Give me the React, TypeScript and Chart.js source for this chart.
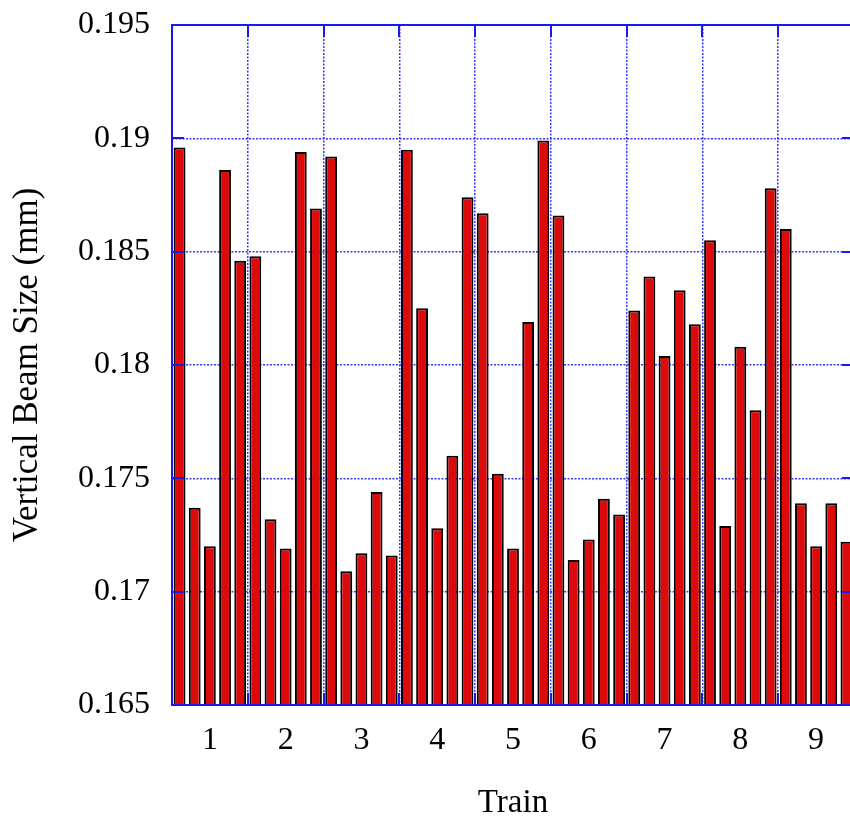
import { useEffect, useRef } from 'react';
import { Chart, registerables } from 'chart.js';

Chart.register(...registerables);

// Train labels (x axis)
const trainLabels = ['1', '2', '3', '4', '5', '6', '7', '8', '9'];

// Vertical beam size (mm) for the 5 bunches of each train
const train1 = [0.1896, 0.1737, 0.1720, 0.1886, 0.1846];
const train2 = [0.1848, 0.1732, 0.1719, 0.1894, 0.1869];
const train3 = [0.1892, 0.1709, 0.1717, 0.1744, 0.1716];
const train4 = [0.1895, 0.1825, 0.1728, 0.1760, 0.1874];
const train5 = [0.1867, 0.1752, 0.1719, 0.1819, 0.1899];
const train6 = [0.1866, 0.1714, 0.1723, 0.1741, 0.1734];
const train7 = [0.1824, 0.1839, 0.1804, 0.1833, 0.1818];
const train8 = [0.1855, 0.1729, 0.1808, 0.1780, 0.1878];
const train9 = [0.1860, 0.1739, 0.1720, 0.1739, 0.1722];

// Y axis range / ticks
const yMin = 0.165;
const yMax = 0.195;
const yStep = 0.005;

const trains = [train1, train2, train3, train4, train5, train6, train7, train8, train9];
const bunchesPerTrain = train1.length;
const bunchValues = trains.flat();
const categoryLabels = bunchValues.map(
  (_, i) => `${trainLabels[Math.floor(i / bunchesPerTrain)]}-${(i % bunchesPerTrain) + 1}`
);

const BLUE = '#1a1af0';
const GRID_BLUE = '#3636ff';
const SERIF = '"Liberation Serif", "Times New Roman", serif';

const framePlugin = {
  id: 'gnuplotFrame',
  afterDatasetsDraw(chart: any) {
    const { ctx, chartArea: a, scales } = chart;
    const tl = 12;
    ctx.save();
    ctx.setLineDash([]);
    ctx.strokeStyle = BLUE;
    ctx.lineWidth = 2;
    const line = (x1: number, y1: number, x2: number, y2: number) => {
      ctx.beginPath();
      ctx.moveTo(x1, y1);
      ctx.lineTo(x2, y2);
      ctx.stroke();
    };
    scales.y.ticks.forEach((t: any) => {
      const py = Math.round(scales.y.getPixelForValue(t.value));
      line(a.left, py, a.left + tl, py);
      line(a.right - tl, py, a.right, py);
    });
    const xs = scales.x;
    for (let i = bunchesPerTrain; i < bunchValues.length; i += bunchesPerTrain) {
      const px = Math.round((xs.getPixelForValue(i - 1) + xs.getPixelForValue(i)) / 2);
      line(px, a.bottom, px, a.bottom - tl);
      line(px, a.top, px, a.top + tl);
    }
    ctx.strokeRect(a.left, a.top, a.right - a.left, a.bottom - a.top);
    ctx.restore();
  },
};

function BeamChart() {
  const ref = useRef<HTMLCanvasElement | null>(null);
  useEffect(() => {
    if (!ref.current) return;
    const chart = new Chart(ref.current, {
      type: 'bar',
      data: {
        labels: categoryLabels,
        datasets: [
          {
            data: bunchValues,
            backgroundColor: '#dc0a0a',
            borderColor: '#000000',
            borderWidth: 2,
            barPercentage: 0.78,
            categoryPercentage: 1,
          },
        ],
      },
      options: {
        animation: false,
        responsive: false,
        layout: { padding: { top: 25, right: 8, left: 0, bottom: 0 } },
        plugins: {
          legend: { display: false },
          tooltip: { enabled: false },
        },
        scales: {
          x: {
            offset: true,
            grid: {
              offset: true,
              drawTicks: false,
              lineWidth: 1.5,
              color: (ctx: any) =>
                ctx.index > 0 && ctx.index % bunchesPerTrain === 0 ? GRID_BLUE : 'rgba(0,0,0,0)',
            },
            border: { display: false, dash: [2, 1.5] },
            ticks: {
              autoSkip: false,
              maxRotation: 0,
              minRotation: 0,
              padding: 16,
              color: '#000',
              font: { family: SERIF, size: 32 },
              callback: (_v: any, i: number) =>
                i % bunchesPerTrain === Math.floor(bunchesPerTrain / 2)
                  ? trainLabels[Math.floor(i / bunchesPerTrain)]
                  : '',
            },
            title: {
              display: true,
              text: 'Train',
              color: '#000',
              font: { family: SERIF, size: 33, lineHeight: 1 },
              padding: { top: 0, bottom: 1 },
            },
            afterFit: (scale: any) => {
              scale.height = 116;
              scale.paddingLeft = 0;
              scale.paddingRight = 0;
            },
          },
          y: {
            min: yMin,
            max: yMax,
            grid: {
              drawTicks: false,
              lineWidth: 1.5,
              color: GRID_BLUE,
            },
            border: { display: false, dash: [2, 1.5] },
            ticks: {
              stepSize: yStep,
              padding: 22,
              color: '#000',
              font: { family: SERIF, size: 32 },
              callback: (v: any) => String(Number(Number(v).toFixed(3))),
            },
            title: {
              display: true,
              text: 'Vertical Beam Size (mm)',
              color: '#000',
              font: { family: SERIF, size: 35, lineHeight: 1 },
              padding: { top: 10, bottom: 0 },
            },
            afterFit: (scale: any) => {
              scale.width = 172;
              scale.paddingTop = 0;
              scale.paddingBottom = 0;
            },
          },
        },
      },
      plugins: [framePlugin],
    });
    return () => chart.destroy();
  }, []);
  return <canvas ref={ref} width={862} height={821} style={{ display: 'block' }} />;
}

export default function App() {
  return (
    <div
      style={{
        position: 'fixed',
        left: 0,
        top: 0,
        width: 850,
        height: 821,
        overflow: 'hidden',
        background: '#ffffff',
      }}
    >
      <BeamChart />
    </div>
  );
}
